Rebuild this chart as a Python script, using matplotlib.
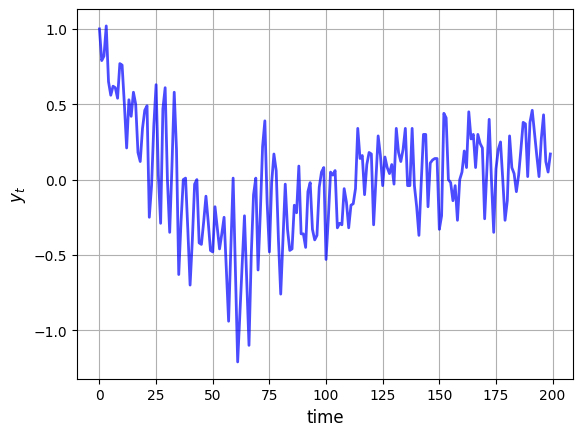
import matplotlib
matplotlib.use("Agg")
import matplotlib.pyplot as plt
import numpy as np

# values, one per time step (0..199)
y_0_39 = [1.00, 0.79, 0.82, 1.02, 0.65, 0.56, 0.62, 0.61, 0.54, 0.77,
          0.76, 0.50, 0.21, 0.53, 0.42, 0.58, 0.50, 0.18, 0.12, 0.34,
          0.46, 0.49, -0.25, -0.04, 0.36, 0.63, 0.03, -0.29, 0.47, 0.61,
          0.00, -0.35, 0.09, 0.58, 0.20, -0.63, -0.28, 0.00, 0.01, -0.33]
y_40_79 = [-0.70, -0.40, -0.03, 0.00, -0.42, -0.43, -0.28, -0.11, -0.28, -0.47,
           -0.48, -0.18, -0.32, -0.46, -0.36, -0.25, -0.60, -0.94, -0.45, 0.01,
           -0.60, -1.21, -0.88, -0.56, -0.24, -0.66, -1.10, -0.50, -0.10, 0.01,
           -0.60, -0.22, 0.22, 0.39, -0.15, -0.48, -0.02, 0.17, 0.06, -0.40]
y_80_119 = [-0.76, -0.40, -0.03, -0.33, -0.47, -0.46, -0.17, -0.22, 0.09, -0.36,
            -0.36, -0.45, -0.08, -0.02, -0.33, -0.40, -0.37, -0.05, 0.05, 0.08,
            -0.53, -0.26, 0.05, 0.03, 0.06, -0.32, -0.29, -0.30, -0.06, -0.15,
            -0.32, -0.17, -0.16, -0.06, 0.34, 0.14, 0.16, -0.10, 0.10, 0.18]
y_120_159 = [0.17, -0.30, 0.00, 0.29, 0.16, -0.04, 0.15, 0.08, 0.04, 0.10,
             -0.03, 0.34, 0.18, 0.12, 0.20, 0.34, -0.04, -0.04, 0.34, -0.04,
             -0.18, -0.37, -0.02, 0.30, 0.30, -0.18, 0.11, 0.13, 0.14, 0.14,
             -0.33, -0.24, 0.44, 0.41, 0.00, -0.02, -0.14, -0.04, -0.27, 0.00]
y_160_199 = [0.05, 0.19, 0.08, 0.45, 0.27, 0.30, 0.08, 0.30, 0.24, 0.21,
             -0.26, 0.07, 0.40, 0.00, -0.35, 0.07, 0.20, 0.25, 0.00, -0.27,
             -0.14, 0.29, 0.08, 0.04, -0.08, 0.03, 0.20, 0.38, 0.37, 0.02,
             0.38, 0.46, 0.31, 0.16, 0.02, 0.27, 0.43, 0.12, 0.05, 0.17]

y = np.array(y_0_39 + y_40_79 + y_80_119 + y_120_159 + y_160_199)
t = np.arange(len(y))

fig, ax = plt.subplots(figsize=(6.4, 4.8), dpi=100)
ax.plot(t, y, 'b-', lw=2, alpha=0.7)
ax.set_xlabel('time', fontsize=12)
ax.set_ylabel('$y_t$', fontsize=12)
ax.grid()

fig.savefig('out.png', dpi=100, bbox_inches='tight')
